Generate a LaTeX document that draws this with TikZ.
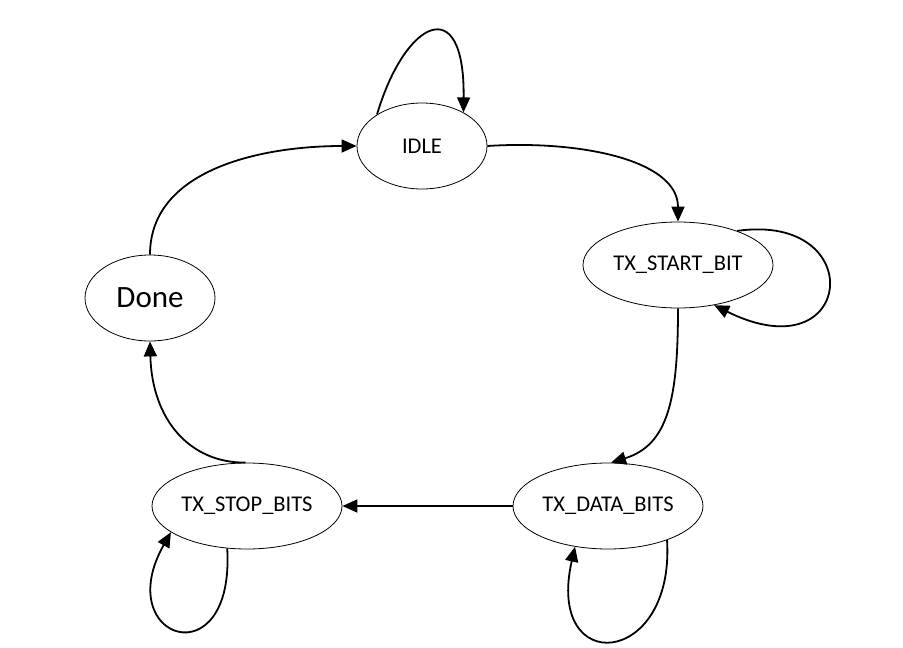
\documentclass[tikz,border=0pt]{standalone}
\usepackage{fontspec}
\setmainfont{Carlito}
\usetikzlibrary{shapes.geometric,arrows.meta}
\begin{document}
\begin{tikzpicture}[x=1pt,y=-1pt,
  state/.style={ellipse,draw=black,line width=0.8pt,inner sep=0pt,fill=white,
    font=\fontsize{22.5}{26}\selectfont},
  edge/.style={line width=1.8pt,-{Triangle[length=15pt,width=13pt]}}]
\useasboundingbox (0,0) rectangle (903,648);
\node[state,minimum width=130pt,minimum height=86pt] (idle) at (422,146) {IDLE};
\node[state,minimum width=190pt,minimum height=86pt] (start) at (678,265) {TX\_START\_BIT};
\node[state,minimum width=190pt,minimum height=86pt] (data) at (608,506) {TX\_DATA\_BITS};
\node[state,minimum width=190pt,minimum height=86pt] (stop) at (247,506) {TX\_STOP\_BITS};
\node[state,minimum width=130pt,minimum height=86pt,font=\fontsize{31}{36}\selectfont] (done) at (150,298) {Done};
% IDLE self loop
\draw[edge] (idle.145) .. controls (405,20) and (465,-10) .. (idle.39);
% IDLE -> START
\draw[edge] (idle.0) .. controls (580,140) and (678,160) .. (start.90);
% START self loop
\draw[edge] (start.30) .. controls (870,212) and (855,375) .. (start.-48);
% START -> DATA
\draw[edge] (start.-90) .. controls (678,400) and (668,445) .. (data.86);
% DATA self loop
\draw[edge] (data.-30.7) .. controls (675,668) and (545,678) .. (data.-129);
% DATA -> STOP
\draw[edge] (data.180) -- (stop.0);
% STOP self loop
\draw[edge] (stop.-115) .. controls (235,680) and (110,640) .. (stop.-161);
% STOP -> Done
\draw[edge] (stop.92) .. controls (190,463) and (152,420) .. (done.-90);
% Done -> IDLE
\draw[edge] (done.90) .. controls (150,170) and (260,146) .. (idle.180);
\end{tikzpicture}
\end{document}
